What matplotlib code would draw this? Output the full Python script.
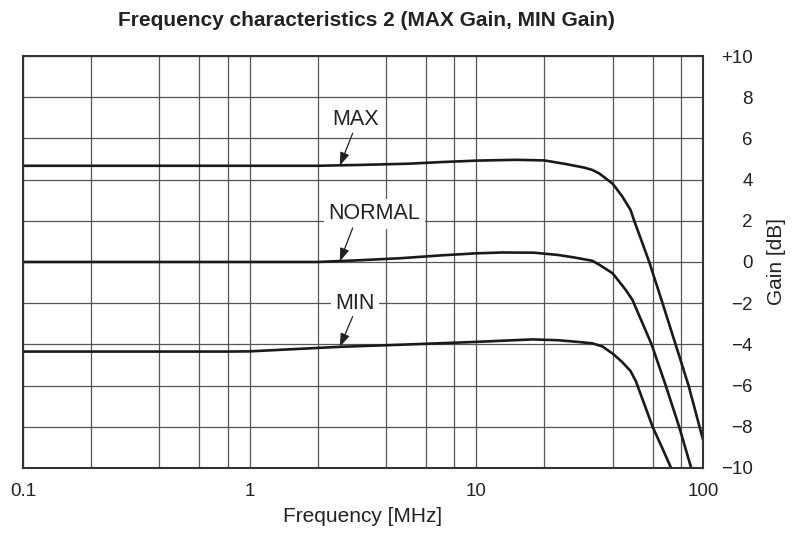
import matplotlib
matplotlib.use("Agg")
import matplotlib.pyplot as plt
from matplotlib.ticker import FixedLocator, NullFormatter

plt.rcParams['font.family'] = ['Liberation Sans', 'DejaVu Sans']

# gain curves (frequency in MHz, gain in dB)
max_freq = [0.1, 2, 3, 5, 7, 10, 15, 20, 25, 30, 32.5, 34.9, 40, 44, 48, 49.8, 54, 58, 66.4, 75.8, 86.5, 100]
max_gain = [4.67, 4.67, 4.71, 4.77, 4.85, 4.92, 4.96, 4.93, 4.75, 4.58, 4.47, 4.3, 3.8, 3.2, 2.52, 2.0, 0.94, 0.0, -2.0, -4.0, -6.0, -8.6]

normal_freq = [0.1, 2, 3, 4.6, 7, 10, 13, 18, 23, 27, 32.5, 35, 40, 45.7, 48.9, 54, 59.4, 68.6, 78.6, 88.5]
normal_gain = [0.0, 0.0, 0.08, 0.18, 0.32, 0.42, 0.46, 0.45, 0.34, 0.22, 0.06, -0.14, -0.55, -1.36, -1.84, -2.94, -4.0, -6.0, -8.0, -9.94]

min_freq = [0.1, 0.8, 1, 2.5, 4.6, 10, 17.7, 23, 28, 32.5, 36, 40, 44, 48, 50.7, 55, 60, 66, 72]
min_gain = [-4.35, -4.35, -4.34, -4.12, -4.02, -3.88, -3.76, -3.8, -3.88, -3.95, -4.1, -4.45, -4.85, -5.3, -5.8, -6.86, -8.0, -9.0, -9.94]

x_major = [0.1, 1, 10, 100]
x_major_labels = ['0.1', '1', '10', '100']
x_minor = [0.2, 0.4, 0.6, 0.8, 2, 4, 6, 8, 20, 40, 60, 80]
y_ticks = [-10, -8, -6, -4, -2, 0, 2, 4, 6, 8, 10]
y_labels = ['\u221210', '\u22128', '\u22126', '\u22124', '\u22122', '0', '2', '4', '6', '8', '+10']

# curve labels: text, text position, arrow tail and tip
labels = ['MAX', 'NORMAL', 'MIN']
label_x = [2.93, 3.56, 2.93]
label_y = [6.9, 2.33, -2.0]
tail_x = [2.85, 2.85, 2.85]
tail_y = [6.25, 1.65, -2.65]
tip_x = [2.5, 2.5, 2.5]
tip_y = [4.67, 0.02, -4.12]

fig = plt.figure(figsize=(8.06, 5.36), dpi=100)
ax = fig.add_axes([0.0285, 0.127, 0.8435, 0.7685])

ax.set_xscale('log')
ax.set_xlim(0.1, 100)
ax.set_ylim(-10, 10)

ax.xaxis.set_major_locator(FixedLocator(x_major))
ax.set_xticklabels(x_major_labels)
ax.xaxis.set_minor_locator(FixedLocator(x_minor))
ax.xaxis.set_minor_formatter(NullFormatter())
ax.set_yticks(y_ticks)
ax.set_yticklabels(y_labels)
ax.yaxis.tick_right()
ax.yaxis.set_label_position('right')

ax.tick_params(axis='x', which='both', length=0, pad=11, labelsize=13.5, colors='#222222')
ax.tick_params(axis='y', length=0, pad=36, labelsize=13.5, colors='#222222')
for lab in ax.get_yticklabels():
    lab.set_horizontalalignment('right')

ax.grid(True, which='both', axis='x', color='#555555', lw=0.9)
ax.grid(True, which='major', axis='y', color='#555555', lw=0.9)
ax.set_axisbelow(True)
for s in ax.spines.values():
    s.set_color('#333333')
    s.set_linewidth(1.5)

ax.plot(max_freq, max_gain, color='#1a1a1a', lw=1.9)
ax.plot(normal_freq, normal_gain, color='#1a1a1a', lw=1.9)
ax.plot(min_freq, min_gain, color='#1a1a1a', lw=1.9)

for i in range(len(labels)):
    ax.text(label_x[i], label_y[i], labels[i], ha='center', va='center', fontsize=15.5,
            color='#222222', zorder=5,
            bbox=dict(boxstyle='square,pad=0.2', fc='white', ec='none'))
    ax.annotate('', xy=(tip_x[i], tip_y[i]), xytext=(tail_x[i], tail_y[i]),
                arrowprops=dict(arrowstyle='-|>,head_length=0.8,head_width=0.28',
                                color='#222222', lw=0.9, shrinkA=0, shrinkB=0),
                zorder=6)

ax.set_xlabel('Frequency [MHz]', fontsize=15, color='#222222', labelpad=5)
ax.set_ylabel('Gain [dB]', fontsize=15, color='#222222', labelpad=10)
fig.text(0.455, 0.962, 'Frequency characteristics 2 (MAX Gain, MIN Gain)', ha='center', va='center',
         fontsize=15, fontweight='bold', color='#222222')

fig.savefig('out.png', dpi=100)
